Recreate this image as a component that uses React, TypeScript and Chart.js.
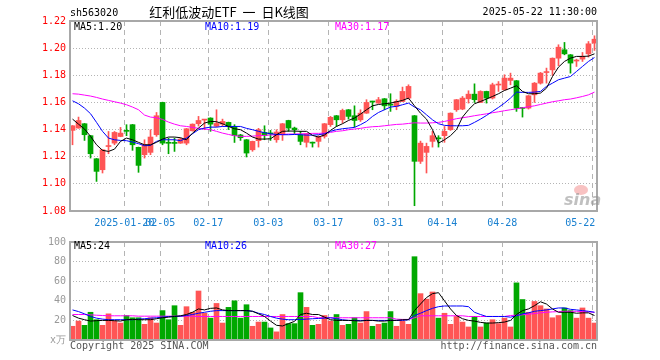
import { useEffect, useRef } from "react";
import { Chart, registerables } from "chart.js";

Chart.register(...registerables);

// ---- data ----
const tickIndex = [9, 15, 23, 33, 43, 53, 62, 72, 87];
const tickLabels = ["2025-01-20", "02-05", "02-17", "03-03", "03-17", "03-31", "04-14", "04-28", "05-22"];
const priceTicks = [1.08, 1.1, 1.12, 1.14, 1.16, 1.18, 1.2, 1.22];
const volumeTicks = [0, 20, 40, 60, 80, 100];

const openP = [
  1.1394, 1.1411, 1.1443, 1.1355, 1.1185, 1.1104, 1.1275, 1.13, 1.1349, 1.139,
  1.1436, 1.1269, 1.1215, 1.1232, 1.1362, 1.16, 1.1301, 1.13, 1.13, 1.13,
  1.1391, 1.1443, 1.147, 1.1485, 1.1425, 1.144, 1.1453, 1.1423, 1.136, 1.1325,
  1.1251, 1.1318, 1.1379, 1.137, 1.1325, 1.1362, 1.1467, 1.1411, 1.1362, 1.1306,
  1.1302, 1.1313, 1.135, 1.1436, 1.1502, 1.1472, 1.1546, 1.1502, 1.1472, 1.1521,
  1.1607, 1.1595, 1.1627, 1.1585, 1.1571, 1.1607, 1.1632, 1.1502, 1.1166, 1.1232,
  1.1313, 1.1335, 1.1355, 1.1399, 1.1546, 1.1551, 1.1627, 1.1661, 1.16, 1.1681,
  1.1632, 1.1728, 1.1693, 1.1762, 1.176, 1.156, 1.1558, 1.1656, 1.1742, 1.182,
  1.184, 1.1926, 1.1988, 1.1951, 1.1905, 1.1919, 1.1958, 1.2037,
];
const highP = [
  1.143, 1.1492, 1.1445, 1.1357, 1.1187, 1.1253, 1.1386, 1.1386, 1.1416, 1.1436,
  1.1438, 1.1271, 1.1325, 1.1399, 1.1526, 1.1602, 1.1337, 1.1337, 1.1337, 1.1408,
  1.1442, 1.1497, 1.1474, 1.1487, 1.1546, 1.1477, 1.1455, 1.1436, 1.1365, 1.1327,
  1.1315, 1.1409, 1.1428, 1.1394, 1.1399, 1.1445, 1.1469, 1.1418, 1.1387, 1.1371,
  1.1308, 1.1355, 1.1445, 1.1497, 1.1504, 1.1551, 1.1548, 1.1575, 1.1546, 1.162,
  1.1609, 1.1637, 1.1629, 1.1664, 1.162, 1.1713, 1.173, 1.1504, 1.1315, 1.13,
  1.1387, 1.1355, 1.1423, 1.1523, 1.1622, 1.1644, 1.1686, 1.1737, 1.1686, 1.1683,
  1.1742, 1.1754, 1.1804, 1.1816, 1.1762, 1.1562, 1.1651, 1.1747, 1.1821, 1.1853,
  1.1928, 1.2025, 1.2042, 1.1953, 1.1919, 1.1968, 1.2049, 1.2091,
];
const lowP = [
  1.1288, 1.141, 1.132, 1.119, 1.1018, 1.108, 1.1222, 1.1288, 1.1347, 1.1355,
  1.1247, 1.1085, 1.119, 1.1215, 1.135, 1.1288, 1.1222, 1.1239, 1.1298, 1.1288,
  1.1389, 1.1426, 1.1399, 1.1387, 1.142, 1.1423, 1.14, 1.1305, 1.132, 1.1198,
  1.124, 1.1271, 1.1325, 1.132, 1.1306, 1.132, 1.1387, 1.1369, 1.1288, 1.1271,
  1.1271, 1.1271, 1.1337, 1.1423, 1.1423, 1.1448, 1.1477, 1.1418, 1.146, 1.1519,
  1.1546, 1.1593, 1.1546, 1.1534, 1.1546, 1.1605, 1.1625, 1.0839, 1.115, 1.108,
  1.1271, 1.1271, 1.1306, 1.1394, 1.1534, 1.1546, 1.1595, 1.16, 1.1598, 1.1595,
  1.1625, 1.1681, 1.1691, 1.173, 1.1534, 1.1492, 1.1551, 1.16, 1.1735, 1.1742,
  1.1799, 1.187, 1.1951, 1.1816, 1.1865, 1.1902, 1.1934, 1.1983,
];
const closeP = [
  1.1428, 1.1467, 1.1362, 1.1222, 1.1092, 1.1251, 1.128, 1.1379, 1.1374, 1.1387,
  1.1288, 1.1136, 1.1288, 1.1345, 1.1502, 1.13, 1.1299, 1.1298, 1.133, 1.1406,
  1.144, 1.1467, 1.1472, 1.144, 1.1445, 1.146, 1.1423, 1.1355, 1.134, 1.1227,
  1.1313, 1.1399, 1.1355, 1.1368, 1.1382, 1.1443, 1.1411, 1.1399, 1.1313, 1.1369,
  1.13, 1.1345, 1.1443, 1.149, 1.1472, 1.1541, 1.1497, 1.1467, 1.1521, 1.16,
  1.1603, 1.162, 1.1575, 1.158, 1.1607, 1.1681, 1.1718, 1.1166, 1.13, 1.1276,
  1.1355, 1.1332, 1.1387, 1.1521, 1.162, 1.1632, 1.1661, 1.162, 1.1681, 1.1632,
  1.173, 1.1732, 1.1779, 1.1779, 1.1558, 1.1556, 1.1649, 1.1742, 1.1816, 1.1823,
  1.1926, 1.2007, 1.1958, 1.189, 1.1909, 1.1939, 1.2032, 1.2066,
];
const ma5 = [
  1.1477, 1.144, 1.1404, 1.135, 1.1288, 1.1247, 1.1239, 1.1256, 1.1313, 1.1337,
  1.1325, 1.1306, 1.1288, 1.1288, 1.1306, 1.133, 1.1345, 1.1345, 1.134, 1.1325,
  1.1374, 1.1411, 1.1448, 1.146, 1.1458, 1.1443, 1.1423, 1.1406, 1.1399, 1.1374,
  1.1345, 1.133, 1.133, 1.1332, 1.1362, 1.1387, 1.1389, 1.1389, 1.1387, 1.1387,
  1.1357, 1.1345, 1.136, 1.1394, 1.1423, 1.1443, 1.1467, 1.1485, 1.1514, 1.1546,
  1.1575, 1.1585, 1.159, 1.1595, 1.1605, 1.1615, 1.1632, 1.1575, 1.1521, 1.1477,
  1.1399, 1.13, 1.1325, 1.1355, 1.1399, 1.1492, 1.1546, 1.159, 1.1607, 1.1625,
  1.1644, 1.1664, 1.1688, 1.1705, 1.1723, 1.1681, 1.1664, 1.1664, 1.1669, 1.1705,
  1.1791, 1.186, 1.1902, 1.1926, 1.1939, 1.1939, 1.1941, 1.1958,
];
const ma10 = [
  1.1612, 1.159, 1.1558, 1.1517, 1.1453, 1.1387, 1.1337, 1.1325, 1.132, 1.1318,
  1.1308, 1.1296, 1.1281, 1.1283, 1.1313, 1.1325, 1.1325, 1.1325, 1.1318, 1.1337,
  1.1369, 1.1399, 1.1411, 1.1418, 1.1418, 1.1423, 1.1423, 1.1423, 1.1423, 1.1409,
  1.1399, 1.1387, 1.1377, 1.1369, 1.1364, 1.1362, 1.1362, 1.1364, 1.1362, 1.1359,
  1.1359, 1.1362, 1.1369, 1.1387, 1.1399, 1.1406, 1.1411, 1.1416, 1.1436, 1.146,
  1.1497, 1.1526, 1.1546, 1.1566, 1.1571, 1.1583, 1.1595, 1.1566, 1.1546, 1.1509,
  1.1472, 1.1443, 1.1431, 1.1428, 1.1428, 1.1428, 1.1431, 1.1453, 1.1477, 1.1504,
  1.1534, 1.1563, 1.1595, 1.1632, 1.1676, 1.1674, 1.1674, 1.1676, 1.1681, 1.1718,
  1.1742, 1.1767, 1.1779, 1.1791, 1.1828, 1.1865, 1.1902, 1.1931,
];
const ma30 = [
  1.1664, 1.1661, 1.1654, 1.1647, 1.1637, 1.1625, 1.1615, 1.1605, 1.1595, 1.1583,
  1.1566, 1.1546, 1.1507, 1.1492, 1.1487, 1.1475, 1.1455, 1.144, 1.1428, 1.1423,
  1.1416, 1.1409, 1.1404, 1.1399, 1.1387, 1.1374, 1.1364, 1.1355, 1.135, 1.135,
  1.1352, 1.1355, 1.1357, 1.136, 1.1362, 1.1364, 1.1367, 1.1367, 1.1369, 1.1369,
  1.1372, 1.1372, 1.1374, 1.1379, 1.1387, 1.1391, 1.1399, 1.1404, 1.1409, 1.1416,
  1.1421, 1.1423, 1.1428, 1.1433, 1.1438, 1.144, 1.1445, 1.145, 1.1448, 1.1448,
  1.145, 1.1453, 1.146, 1.147, 1.148, 1.1487, 1.1494, 1.1502, 1.1509, 1.1516,
  1.1524, 1.1531, 1.1539, 1.1546, 1.1553, 1.1561, 1.1568, 1.1575, 1.1585, 1.1595,
  1.1605, 1.1612, 1.162, 1.1625, 1.1634, 1.1644, 1.1656, 1.1676,
];
const volume = [
  14, 19.3, 15, 28.3, 20.7, 15, 26.7, 19.3, 17.3, 25,
  22.7, 22.7, 16, 22.7, 17.3, 30, 20.7, 35, 15, 34,
  28.3, 50, 27.3, 22.3, 37.3, 17.3, 33.3, 40, 22.3, 36,
  14, 18.3, 18.3, 12.3, 8.3, 26, 16.7, 16.7, 48.3, 33.3,
  15, 16, 25, 19.3, 26, 15, 16, 22.7, 17.3, 29,
  14, 16, 17.3, 29, 14, 19.3, 16, 85, 47.3, 41.7,
  49, 22.3, 27.3, 16, 24, 18.3, 13.3, 24, 13.3, 17.3,
  20.7, 16.7, 22.3, 13.3, 58.3, 41.3, 28.3, 39.3, 35, 31.7,
  22.7, 25, 32.7, 30, 22.3, 32.7, 22.3, 17.3,
];
const vma5 = [
  25, 22.3, 20.7, 19.3, 19.7, 20, 20, 19.7, 19.3, 20.7,
  21, 20.7, 20.7, 20.7, 21.7, 22.7, 23.3, 24, 24.7, 26,
  28.3, 31.7, 30.7, 32.3, 32.7, 30.7, 30, 30, 30, 30,
  29.3, 26.7, 24, 19.3, 15, 14.3, 16.7, 19, 26, 27.3,
  26, 26, 23.3, 20.7, 20, 20, 20, 19.7, 19.3, 20,
  20, 19.3, 19.3, 20, 20, 20.7, 20.7, 30, 36.7, 43.3,
  47.3, 48.3, 40, 31.7, 25, 21.7, 20, 19.3, 18, 17.3,
  17.3, 17.7, 18.3, 20, 26, 30, 31.7, 35, 39, 36.7,
  31.7, 28.3, 28.3, 28.3, 27.3, 27.7, 27.7, 25,
];
const vma10 = [
  30.7, 29, 26.7, 24, 22.3, 21.3, 20.7, 20.7, 20.7, 20.7,
  20.7, 21.3, 21.7, 22.3, 22.7, 23.3, 24, 24, 24.3, 25,
  26, 27.3, 28.3, 29.3, 30, 30, 30, 30, 30, 30,
  29.3, 27.3, 26, 24, 22.3, 21.3, 20.7, 20.7, 21, 21.3,
  21.7, 22, 22.3, 22.7, 21.7, 20.7, 20, 20, 20, 20,
  20, 20, 20, 20, 20, 20, 20.7, 25, 27.3, 30,
  32.3, 34, 34.7, 34.7, 34.7, 34.7, 34, 28.3, 26, 24,
  24, 24, 24, 23.3, 24.7, 26.7, 27.7, 29.3, 30, 30.7,
  31.7, 32.7, 32.7, 31.3, 30.7, 30, 29.3, 28.3,
];
const vma30 = [
  26, 26, 26, 25.7, 25.3, 25, 24.7, 24.7, 24.7, 24.7,
  24.7, 24.3, 24.3, 24.3, 24.3, 24.3, 24.3, 24.3, 24.3, 24.3,
  24.3, 24, 24, 24, 24, 24, 24, 24, 24, 24,
  24, 24, 24, 24, 24, 24, 24, 24, 24, 24,
  24, 22.7, 22.7, 22.7, 22.7, 22.7, 22.7, 22.7, 22.7, 22.7,
  22.7, 22.7, 22.7, 22.7, 21.3, 21, 21, 22.7, 24.7, 24.7,
  24.7, 24.7, 24.7, 24.7, 24.7, 24.7, 24, 24, 24, 24,
  24, 24, 24, 25, 25.3, 25.7, 26.3, 27, 27.7, 28.3,
  28.7, 29, 29.3, 29.3, 29.3, 29, 28.7, 28.3,
];

// ---- styles ----
const UP = "#ff5555";
const DOWN = "#00a800";
const MONO = '"DejaVu Sans Mono", "Liberation Mono", monospace';
const GRID = "#b4b4b4";
const FRAME = "#a8a8a8";
const X_MIN = -0.42;
const X_MAX = 87.42;
const TICK_SHIFT = 0.37;

const idx = closeP.map((_, i) => i);
const candleColors = idx.map((i) => (closeP[i] >= openP[i] ? UP : DOWN));
const pts = (arr: number[]) => idx.map((i) => ({ x: i, y: arr[i] }));

const lineDs = (label: string, arr: number[], color: string) => ({
  type: "line" as const,
  label,
  data: pts(arr),
  borderColor: color,
  borderWidth: 1,
  pointRadius: 0,
  tension: 0,
  order: 0,
});

const xScale = (showTicks: boolean, height: number) => ({
  type: "linear" as const,
  min: X_MIN,
  max: X_MAX,
  offset: false,
  afterBuildTicks: (axis: any) => {
    axis.ticks = tickIndex.map((v) => ({ value: v - TICK_SHIFT }));
  },
  afterFit: (axis: any) => {
    axis.height = height;
  },
  grid: { color: GRID, lineWidth: 1, drawTicks: false, offset: false },
  border: { display: false, dash: [5, 4] },
  ticks: {
    display: showTicks,
    autoSkip: false,
    maxRotation: 0,
    minRotation: 0,
    padding: 6,
    color: "#1a80d0",
    font: { family: MONO, size: 10 },
    callback: (_v: any, i: number) =>
      i === tickLabels.length - 1 ? tickLabels[i] + "    " : tickLabels[i],
  },
});

const framePlugin = {
  id: "frame",
  afterDraw(chart: any) {
    const { ctx, chartArea: a } = chart;
    ctx.save();
    ctx.strokeStyle = FRAME;
    ctx.lineWidth = 2;
    ctx.strokeRect(a.left, a.top, a.right - a.left, a.bottom - a.top);
    ctx.restore();
  },
};

const priceText = {
  id: "priceText",
  afterDraw(chart: any) {
    const ctx = chart.ctx as CanvasRenderingContext2D;
    ctx.save();
    ctx.textBaseline = "middle";
    ctx.fillStyle = "#000";
    ctx.font = `10px ${MONO}`;
    ctx.textAlign = "left";
    ctx.fillText("sh563020", 70, 13);
    ctx.textAlign = "right";
    ctx.fillText("2025-05-22 11:30:00", 597, 12);
    ctx.textAlign = "center";
    ctx.font = '13px "Noto Sans CJK SC", sans-serif';
    ctx.fillText("红利低波动ETF  一  日K线图", 229, 12);
    ctx.font = `10px ${MONO}`;
    ctx.textAlign = "left";
    ctx.fillStyle = "#000";
    ctx.fillText("MA5:1.20", 74, 27);
    ctx.fillStyle = "#0000ff";
    ctx.fillText("MA10:1.19", 205, 27);
    ctx.fillStyle = "#ff00ff";
    ctx.fillText("MA30:1.17", 335, 27);
    // sina watermark
    ctx.fillStyle = "rgba(240,120,120,0.45)";
    ctx.beginPath();
    ctx.ellipse(581, 190, 7, 5, 0, 0, Math.PI * 2);
    ctx.fill();
    ctx.fillStyle = "rgba(150,150,150,0.6)";
    ctx.font = 'italic bold 16px "DejaVu Sans", sans-serif';
    ctx.textBaseline = "alphabetic";
    ctx.fillText("sina", 564, 205);
    ctx.restore();
  },
};

const volText = {
  id: "volText",
  afterDraw(chart: any) {
    const ctx = chart.ctx as CanvasRenderingContext2D;
    ctx.save();
    ctx.textBaseline = "middle";
    ctx.font = `10px ${MONO}`;
    ctx.textAlign = "left";
    ctx.fillStyle = "#000";
    ctx.fillText("MA5:24", 74, 14);
    ctx.fillStyle = "#0000ff";
    ctx.fillText("MA10:26", 205, 14);
    ctx.fillStyle = "#ff00ff";
    ctx.fillText("MA30:27", 335, 14);
    ctx.fillStyle = "#555";
    ctx.fillText("Copyright 2025 SINA.COM", 70, 114);
    ctx.textAlign = "right";
    ctx.fillText("http://finance.sina.com.cn", 597, 114);
    ctx.restore();
  },
};

export default function App() {
  const priceRef = useRef<HTMLCanvasElement>(null);
  const volRef = useRef<HTMLCanvasElement>(null);

  useEffect(() => {
    const price = new Chart(priceRef.current as HTMLCanvasElement, {
      type: "bar",
      data: {
        datasets: [
          lineDs("MA5", ma5, "#000000"),
          lineDs("MA10", ma10, "#0000ff"),
          lineDs("MA30", ma30, "#ff00ff"),
          {
            type: "bar",
            label: "body",
            data: idx.map((i) => ({ x: i, y: [openP[i], closeP[i]] })) as any,
            backgroundColor: candleColors,
            barThickness: 5,
            minBarLength: 1,
            grouped: false,
            order: 1,
          },
          {
            type: "bar",
            label: "wick",
            data: idx.map((i) => ({ x: i, y: [lowP[i], highP[i]] })) as any,
            backgroundColor: candleColors,
            barThickness: 1,
            grouped: false,
            order: 2,
          },
        ] as any,
      },
      options: {
        responsive: false,
        animation: false,
        layout: { padding: { top: 21, right: 63, left: 0, bottom: 0 } },
        plugins: { legend: { display: false }, tooltip: { enabled: false } },
        scales: {
          x: xScale(true, 21) as any,
          y: {
            min: 1.08,
            max: 1.22,
            afterBuildTicks: (axis: any) => {
              axis.ticks = priceTicks.map((v) => ({ value: v }));
            },
            afterFit: (axis: any) => {
              axis.width = 70;
            },
            grid: { color: GRID, drawTicks: false },
            border: { display: false, dash: [1, 2] },
            ticks: {
              padding: 4,
              color: "#ff0000",
              font: { family: MONO, size: 10 },
              callback: (v: any) => Number(v).toFixed(2),
            },
          },
        },
      },
      plugins: [framePlugin, priceText],
    });

    const vol = new Chart(volRef.current as HTMLCanvasElement, {
      type: "bar",
      data: {
        datasets: [
          lineDs("MA5", vma5, "#000000"),
          lineDs("MA10", vma10, "#0000ff"),
          lineDs("MA30", vma30, "#ff00ff"),
          {
            type: "bar",
            label: "volume",
            data: pts(volume) as any,
            backgroundColor: candleColors,
            barThickness: 5,
            grouped: false,
            order: 1,
          },
        ] as any,
      },
      options: {
        responsive: false,
        animation: false,
        layout: { padding: { top: 9, right: 63, left: 0, bottom: 0 } },
        plugins: { legend: { display: false }, tooltip: { enabled: false } },
        scales: {
          x: xScale(false, 20) as any,
          y: {
            min: 0,
            max: 100,
            afterBuildTicks: (axis: any) => {
              axis.ticks = volumeTicks.map((v) => ({ value: v }));
            },
            afterFit: (axis: any) => {
              axis.width = 70;
            },
            grid: { color: GRID, drawTicks: false },
            border: { display: false, dash: [1, 2] },
            ticks: {
              padding: 4,
              color: "#999999",
              font: { family: MONO, size: 10 },
              callback: (v: any) => (Number(v) === 0 ? "x万" : String(v)),
            },
          },
        },
      },
      plugins: [framePlugin, volText],
    });

    return () => {
      price.destroy();
      vol.destroy();
    };
  }, []);

  return (
    <div style={{ position: "absolute", left: 0, top: 0, width: 660, height: 360, background: "#fff" }}>
      <canvas ref={priceRef} width={660} height={232} style={{ position: "absolute", left: 0, top: 0 }} />
      <canvas ref={volRef} width={660} height={128} style={{ position: "absolute", left: 0, top: 232 }} />
    </div>
  );
}
